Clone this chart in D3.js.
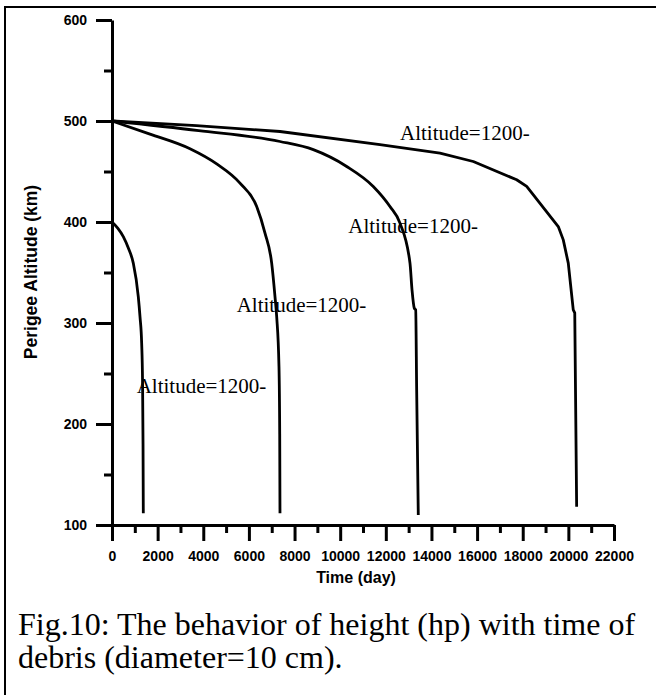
<!DOCTYPE html>
<html><head><meta charset="utf-8">
<script src="https://cdn.jsdelivr.net/npm/d3@7"></script>
<style>
html,body{margin:0;padding:0;background:#fff;}
svg{display:block;}
</style>
</head><body>
<svg id="chart" width="656" height="695"></svg>
<script>
// ---- data ----
const xTicks = [0,2000,4000,6000,8000,10000,12000,14000,16000,18000,20000,22000];
const yTicks = [100,200,300,400,500,600];
const curve1 = [[0,400],[250,394],[495,385.6],[720,374],[933,359.3],[1152,326.2],[1227,306.4],[1300,280],[1340,240],[1360,180],[1372,111.6]];
const curve2 = [[0,500],[1665,487.0],[3418,472.5],[4588,457.5],[5609,438.5],[6341,415.3],[6705,389.0],[6998,359.3],[7143,326.2],[7217,306.4],[7318,256.8],[7350,190],[7362,111.6]];
const curve3 = [[0,500],[3800,490.5],[7362,479.7],[8821,471.6],[10285,455.0],[11450,435.2],[12182,415.3],[12620,398.9],[13059,359.3],[13148,332.8],[13247,314.7],[13309,313.0],[13352,233.7],[13423,109.9]];
const curve4 = [[0,500],[3700,495.5],[7362,489.6],[11744,476.5],[14373,468.2],[15833,459.9],[17734,441.8],[18173,435.2],[19558,395.5],[19777,382.3],[19996,359.3],[20215,313.0],[20280,310],[20363,118.1]];
const labelText = ["Altitude=1200-","Altitude=1200-","Altitude=1200-","Altitude=1200-"];
const labelT = [12621,10355,5465,1082];
const labelAlt = [481.4,389,310.7,231];
const xTitle = "Time (day)";
const yTitle = "Perigee Altitude (km)";
const caption = ["Fig.10: The behavior of height (hp) with time of","debris (diameter=10 cm)."];

// ---- drawing ----
const svg = d3.select("#chart");
const x = d3.scaleLinear().domain([0,22000]).range([112,614]);
const y = d3.scaleLinear().domain([100,600]).range([525,20]);

svg.append("rect").attr("x",5).attr("y",7).attr("width",700).attr("height",700)
  .attr("fill","none").attr("stroke","#000").attr("stroke-width",2);

const sans = "'Liberation Sans', Arial, sans-serif";
const serif = "'Liberation Serif', 'Times New Roman', serif";

// minor ticks
const yMinor = d3.range(150,600,100);
const xMinor = d3.range(1000,22000,2000);
svg.append("g").attr("transform","translate(112,0)")
  .call(d3.axisLeft(y).tickValues(yMinor).tickSize(8).tickSizeOuter(0).tickFormat(""))
  .call(g=>g.select(".domain").remove())
  .call(g=>g.selectAll("line").attr("stroke-width",3));
svg.append("g").attr("transform","translate(0,525)")
  .call(d3.axisBottom(x).tickValues(xMinor).tickSize(8).tickSizeOuter(0).tickFormat(""))
  .call(g=>g.select(".domain").remove())
  .call(g=>g.selectAll("line").attr("stroke-width",3));

// major axes
const yAxis = svg.append("g").attr("transform","translate(112,0)")
  .call(d3.axisLeft(y).tickValues(yTicks).tickSize(16).tickSizeOuter(0).tickPadding(9).tickFormat(d3.format("d")));
const xAxis = svg.append("g").attr("transform","translate(0,525)")
  .call(d3.axisBottom(x).tickValues(xTicks).tickSize(16).tickSizeOuter(0).tickPadding(10).tickFormat(d3.format("d")));
[yAxis,xAxis].forEach(g=>{
  g.select(".domain").attr("stroke-width",3);
  g.selectAll("line").attr("stroke-width",3);
  g.selectAll("text").attr("font-family",sans).attr("font-weight","bold").attr("font-size",14).attr("fill","#000");
});

// curves
const smooth = d3.line().x(d=>x(d[0])).y(d=>y(d[1])).curve(d3.curveMonotoneX);
const straight = d3.line().x(d=>x(d[0])).y(d=>y(d[1]));
[[curve1,smooth],[curve2,smooth],[curve3,smooth],[curve4,straight]].forEach(([c,gen])=>{
  svg.append("path").attr("d",gen(c)).attr("fill","none").attr("stroke","#000")
    .attr("stroke-width",2.8).attr("stroke-linejoin","round");
});

// labels
labelText.forEach((t,i)=>{
  svg.append("text").attr("x",x(labelT[i])).attr("y",y(labelAlt[i]))
    .attr("font-family",serif).attr("font-size",21).attr("fill","#000").text(t);
});

// axis titles
svg.append("text").attr("x",356).attr("y",583).attr("text-anchor","middle")
  .attr("font-family",sans).attr("font-weight","bold").attr("font-size",16).text(xTitle);
svg.append("text").attr("transform","translate(37,272) rotate(-90)").attr("text-anchor","middle")
  .attr("font-family",sans).attr("font-weight","bold").attr("font-size",17.5).text(yTitle);

// caption
caption.forEach((c,i)=>{
  svg.append("text").attr("x",18).attr("y",635+i*33)
    .attr("font-family",serif).attr("font-size",32).attr("fill","#000").text(c);
});
</script>
</body></html>
